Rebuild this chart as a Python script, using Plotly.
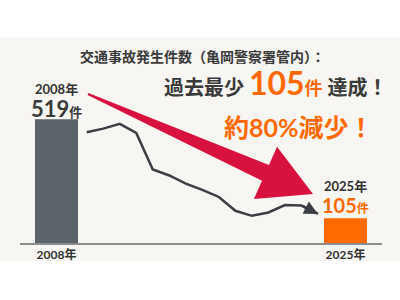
import plotly.graph_objects as go
import math

# ---- data ----
bar_years = [2008, 2025]
bar_values = [519, 105]
bar_labels = ["2008年", "2025年"]
line_years = list(range(2009, 2024))
line_values = [465, 480, 500, 462, 309, 284, 250, 224, 194, 136, 115, 129, 160, 158, 123]

title_line1 = "交通事故発生件数（亀岡警察署管内）："
FONT = "Noto Sans CJK JP"
NUMFONT = "Lato, Noto Sans CJK JP"
DARK = "#333333"
ORANGE = "#ff6a00"
GRAY = "#5b636b"
RED = "#d8123f"
LINEC = "#3b3f44"

W, H = 400, 300
def px(x, y):
    return x / W, 1 - y / H

fig = go.Figure()
fig.add_trace(go.Bar(
    x=bar_years, y=bar_values, width=2.53,
    marker=dict(color=[GRAY, ORANGE], line=dict(width=0)),
    hoverinfo="skip",
))
fig.add_trace(go.Scatter(
    x=line_years, y=line_values, xaxis="x2", mode="lines",
    line=dict(color=LINEC, width=2.5),
    hoverinfo="skip",
))

# tapered red arrow (decoration), built in pixel geometry
tail = (88.0, 94.0)
tip = (313.0, 194.0)
dx, dy = tip[0] - tail[0], tip[1] - tail[1]
L = math.hypot(dx, dy)
ux, uy = dx / L, dy / L
nx, ny = -uy, ux
head_len, head_half, shaft_half, tail_half = 52, 28.5, 8.5, 1.0
bx, by = tip[0] - head_len * ux, tip[1] - head_len * uy
pts = [
    (tail[0] - tail_half * nx, tail[1] - tail_half * ny),
    (bx - shaft_half * nx, by - shaft_half * ny),
    (bx - head_half * nx, by - head_half * ny),
    tip,
    (bx + head_half * nx, by + head_half * ny),
    (bx + shaft_half * nx, by + shaft_half * ny),
    (tail[0] + tail_half * nx, tail[1] + tail_half * ny),
]
path = "M " + " L ".join(f"{px(x, y)[0]:.4f},{px(x, y)[1]:.4f}" for x, y in pts) + " Z"

shapes = [
    dict(type="rect", xref="paper", yref="paper", x0=0, x1=1,
         y0=px(0, 261)[1], y1=px(0, 37)[1], fillcolor="#f7f6f2",
         line=dict(width=0), layer="below"),
    dict(type="path", xref="paper", yref="paper", path=path,
         fillcolor=RED, line=dict(width=0), layer="above"),
]

def ann(text, x, y, size, color=DARK, weight="bold", family=FONT):
    ax, ay = px(x, y)
    return dict(text=text, x=ax, y=ay, xref="paper", yref="paper",
                xanchor="center", yanchor="middle", showarrow=False,
                font=dict(family=family, size=size, color=color, weight=weight))

annotations = [
    ann(title_line1, 203, 56, 14, "#3a3a3a"),
    ann("過去最少 <span style='font-size:32px;color:%s'>%d</span>"
        "<span style='font-size:18px;color:%s'>件</span> 達成！" % (ORANGE, bar_values[1], ORANGE),
        275, 82, 20, "#3a3a3a", family=NUMFONT),
    ann("約80%減少！", 299, 127, 25, ORANGE, family=NUMFONT),
    ann(bar_labels[0], 56, 89, 13, family=NUMFONT),
    ann("<span style='font-size:22px'>%d</span><span style='font-size:13px'>件</span>" % bar_values[0],
        56, 108, 13, "#3a3a3a", family=NUMFONT),
    ann(bar_labels[1], 345, 186, 13, family=NUMFONT),
    ann("<span style='font-size:20px'>%d</span><span style='font-size:12px'>件</span>" % bar_values[1],
        345, 205, 12, ORANGE, family=NUMFONT),
    # arrowhead at the end of the trend line
    dict(x=line_years[-1], y=line_values[-1], xref="x2", yref="y",
         ax=line_years[-2], ay=line_values[-2], axref="x2", ayref="y",
         text="", showarrow=True, arrowhead=2, arrowsize=1.1, arrowwidth=2.5,
         arrowcolor=LINEC, standoff=0),
]

fig.update_layout(
    width=W, height=H, margin=dict(l=0, r=0, t=0, b=0),
    paper_bgcolor="white", plot_bgcolor="rgba(0,0,0,0)",
    showlegend=False, shapes=shapes, annotations=annotations,
    xaxis=dict(domain=[0.05, 0.955], range=[2005.853, 2027.147],
               tickvals=bar_years, ticktext=bar_labels, showgrid=False,
               zeroline=False, showline=True, linecolor="#8c8c8c", linewidth=1.5,
               ticks="", tickfont=dict(family=NUMFONT, size=12, color=DARK, weight="bold"),
               fixedrange=True),
    xaxis2=dict(overlaying="x", domain=[0.05, 0.955], range=[2004.962, 2026.875],
                visible=False, fixedrange=True),
    yaxis=dict(domain=[0.189, 1], range=[0, 1018.4], visible=False, fixedrange=True),
)

fig.write_html("out.html", config={"displayModeBar": False})
